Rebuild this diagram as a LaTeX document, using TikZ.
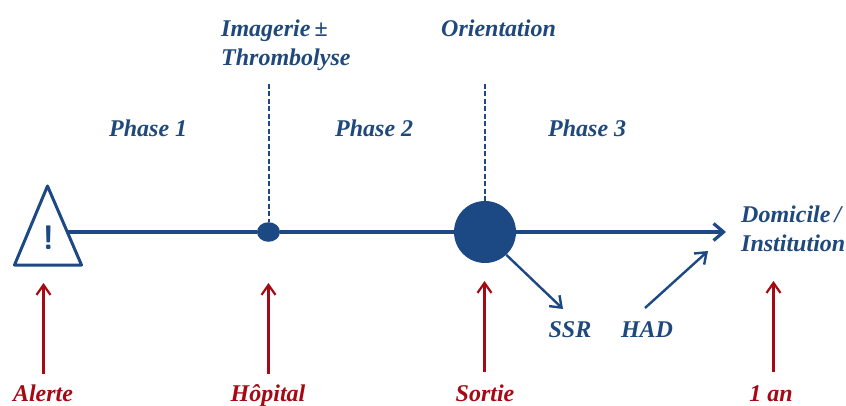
\documentclass[tikz,border=0pt]{standalone}
\usepackage{fontspec}
\setmainfont{Liberation Serif}
\usetikzlibrary{arrows.meta}
\definecolor{bl}{RGB}{31,73,125}
\definecolor{dk}{RGB}{28,72,132}
\definecolor{rd}{RGB}{165,10,20}
\tikzset{
  lab/.style={font=\fontsize{24}{29}\selectfont\bfseries\itshape,inner sep=0pt,text=bl,align=left},
  redlab/.style={font=\fontsize{24}{29}\selectfont\bfseries\itshape,inner sep=0pt,text=rd,anchor=base},
  tline/.style={draw=dk,line width=3.2pt},
  branch/.style={draw=dk,line width=2.4pt,-{Straight Barb[length=10pt,width=15pt,line width=2.4pt]}},
  redarrow/.style={draw=rd,line width=2.2pt,-{Straight Barb[length=10pt,width=14pt,line width=2.2pt]}},
  riser/.style={draw=dk,line width=2pt,dash pattern=on 5pt off 2.5pt},
  evdot/.style={circle,fill=dk,draw=none,inner sep=0pt},
}
\begin{document}
\begin{tikzpicture}[x=1pt,y=-1pt]
\useasboundingbox (0,0) rectangle (846,406);
% alert triangle
\coordinate (ta) at (47.5,186);
\coordinate (tl) at (14.5,265);
\coordinate (tr) at (81.5,265);
\coordinate (ts) at (68,232);
\draw[draw=dk,line width=3pt,line join=round] (ta) -- (tr) -- (tl) -- cycle;
\node[inner sep=0pt,font=\fontsize{34}{34}\selectfont\sffamily\bfseries,text=dk] (ex) at (48.5,238) {!};
% event dots
\node[evdot,minimum width=23pt,minimum height=23pt,yscale=.85] (hop) at (268.5,232) {};
\node[evdot,minimum size=62pt] (sor) at (485,232) {};
% timeline
\coordinate (tend) at (726,232);
\draw[tline] (ts) -- (hop);
\draw[tline] (hop) -- (sor);
\draw[tline,-{Straight Barb[length=10pt,width=17pt,line width=3.2pt]}] (sor) -- (tend);
% dashed risers
\coordinate (d1) at (268.5,84);
\coordinate (d2) at (485,84);
\draw[riser] (d1) -- (hop.north);
\draw[riser] (d2) -- (sor.north);
% labels
\node[lab,anchor=base west] (img1) at (221,36.5) {Imagerie\,±};
\node[lab,anchor=base west] (img2) at (221,65.5) {Thrombolyse};
\node[lab,anchor=base west] (ori) at (441,36.5) {Orientation};
\node[lab,anchor=base west] (ph1) at (109,136.5) {Phase 1};
\node[lab,anchor=base west] (ph2) at (335,136.5) {Phase 2};
\node[lab,anchor=base west] (ph3) at (548,136.5) {Phase 3};
\node[lab,anchor=base west] (dom) at (741,223) {Domicile\,/};
\node[lab,anchor=base west] (ins) at (741,251.5) {Institution};
\node[lab,anchor=base] (ssr) at (570,337) {SSR};
\node[lab,anchor=base] (had) at (647,337) {HAD};
% branches
\coordinate (ssrtip) at (563,309);
\coordinate (hadtail) at (645,308);
\coordinate (hadtip) at (708,251);
\draw[branch] (sor.-47) -- (ssrtip);
\draw[branch] (hadtail) -- (hadtip);
% red markers
\node[redlab] (al) at (43,401) {Alerte};
\node[redlab] (ho) at (268,401) {Hôpital};
\node[redlab] (so) at (485,401) {Sortie};
\node[redlab] (an) at (771,401) {1 an};
\coordinate (a1s) at (43.5,374); \coordinate (a1e) at (43.5,283);
\coordinate (a2s) at (268.5,374);  \coordinate (a2e) at (268.5,283);
\coordinate (a3s) at (484.5,372);\coordinate (a3e) at (484.5,281);
\coordinate (a4s) at (773.5,372);\coordinate (a4e) at (773.5,281);
\draw[redarrow] (a1s) -- (a1e);
\draw[redarrow] (a2s) -- (a2e);
\draw[redarrow] (a3s) -- (a3e);
\draw[redarrow] (a4s) -- (a4e);
\end{tikzpicture}
\end{document}
